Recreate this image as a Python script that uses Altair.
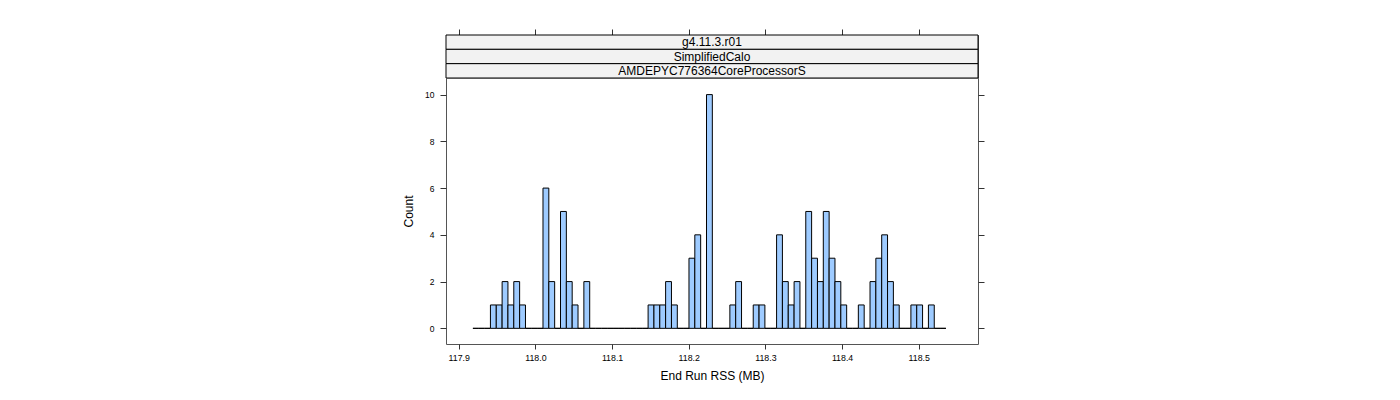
import altair as alt
import numpy as np
import pandas as pd

# ---- data ----
strip_labels = ["g4.11.3.r01", "SimplifiedCalo", "AMDEPYC776364CoreProcessorS"]

break_start = 117.9185      # first histogram break (MB)
bin_width = 0.007617        # histogram bin width (MB)
counts = [0, 0, 0, 1, 1, 2, 1, 2, 1, 0,
          0, 0, 6, 2, 0, 5, 2, 1, 0, 2,
          0, 0, 0, 0, 0, 0, 0, 0, 0, 0,
          1, 1, 1, 2, 1, 0, 0, 3, 4, 0,
          10, 0, 0, 0, 1, 2, 0, 0, 1, 1,
          0, 0, 4, 2, 1, 2, 0, 5, 3, 2,
          5, 3, 2, 1, 0, 0, 1, 0, 2, 3,
          4, 2, 1, 0, 0, 1, 1, 0, 1, 0,
          0]

x_ticks = [117.9, 118.0, 118.1, 118.2, 118.3, 118.4, 118.5]
y_ticks = [0, 2, 4, 6, 8, 10]
x_domain = [117.8834, 118.5773]
y_domain = [-0.67, 10.71]

# ---- tables ----
starts = [break_start + i * bin_width for i in range(len(counts))]
hist = pd.DataFrame({
    "start": starts,
    "end": [s + bin_width for s in starts],
    "count": counts,
    "base": [0] * len(counts),
})
strips = pd.DataFrame({
    "label": strip_labels,
    "xmin": [x_domain[0]] * 3,
    "xmax": [x_domain[1]] * 3,
})

W = 532
FONT = "Liberation Sans"
TICK = "#333333"
FRAME = "#555555"

xscale = alt.Scale(domain=x_domain, nice=False, zero=False)
yscale = alt.Scale(domain=y_domain, nice=False, zero=False)
row_scale = alt.Scale(domain=strip_labels, paddingInner=0, paddingOuter=0)

# ---- strips (with top ticks) ----
strip_rect = alt.Chart(strips).mark_rect(
    fill="#f2f2f2", stroke="#000000", strokeWidth=1
).encode(
    x=alt.X("xmin:Q", scale=xscale,
            axis=alt.Axis(orient="top", values=x_ticks, labels=False, domain=False,
                          grid=False, tickSize=6, tickColor=TICK, title=None)),
    x2="xmax:Q",
    y=alt.Y("label:N", scale=row_scale, axis=None),
)
strip_text = alt.Chart(strips).mark_text(
    font=FONT, fontSize=12, color="#000000", baseline="middle", align="center"
).encode(
    x=alt.value(W / 2),
    y=alt.Y("label:N", scale=row_scale, axis=None),
    text="label:N",
)
strip_chart = alt.layer(strip_rect, strip_text).properties(width=W, height=43)

# ---- histogram panel ----
bars = alt.Chart(hist).mark_rect(
    fill="#9ecbff", stroke="#000000", strokeWidth=1
).encode(
    x=alt.X("start:Q", scale=xscale,
            axis=alt.Axis(orient="bottom", values=x_ticks, format=".1f", domain=False,
                          grid=False, tickSize=5, tickColor=TICK, labelPadding=4,
                          labelFontSize=8.8, labelFont=FONT, labelColor="#000000",
                          title="End Run RSS (MB)", titleFont=FONT, titleFontSize=12,
                          titleFontWeight="normal", titleColor="#000000", titlePadding=9)),
    x2="end:Q",
    y=alt.Y("count:Q", scale=yscale,
            axis=alt.Axis(orient="left", values=y_ticks, format="d", domain=False,
                          grid=False, tickSize=6, tickColor=TICK, labelPadding=6,
                          labelFontSize=8.5, labelFont=FONT, labelColor="#000000",
                          title="Count", titleFont=FONT, titleFontSize=12,
                          titleFontWeight="normal", titleColor="#000000", titlePadding=9)),
    y2="base:Q",
)
right_ticks = alt.Chart(hist).mark_point(opacity=0).encode(
    y=alt.Y("count:Q", scale=yscale,
            axis=alt.Axis(orient="right", values=y_ticks, labels=False, domain=False,
                          grid=False, tickSize=6, tickColor=TICK, title=None)),
)
panel = alt.layer(bars, right_ticks).resolve_axis(y="independent").properties(
    width=W, height=266
)

chart = alt.vconcat(strip_chart, panel, spacing=0, bounds="flush").properties(
    padding={"left": 402, "top": 28, "right": 10, "bottom": 10},
    background="#ffffff",
).configure(
    font=FONT
).configure_view(
    stroke=FRAME, strokeWidth=1
)

chart.save("out.html", embed_options={"renderer": "svg", "actions": False})
